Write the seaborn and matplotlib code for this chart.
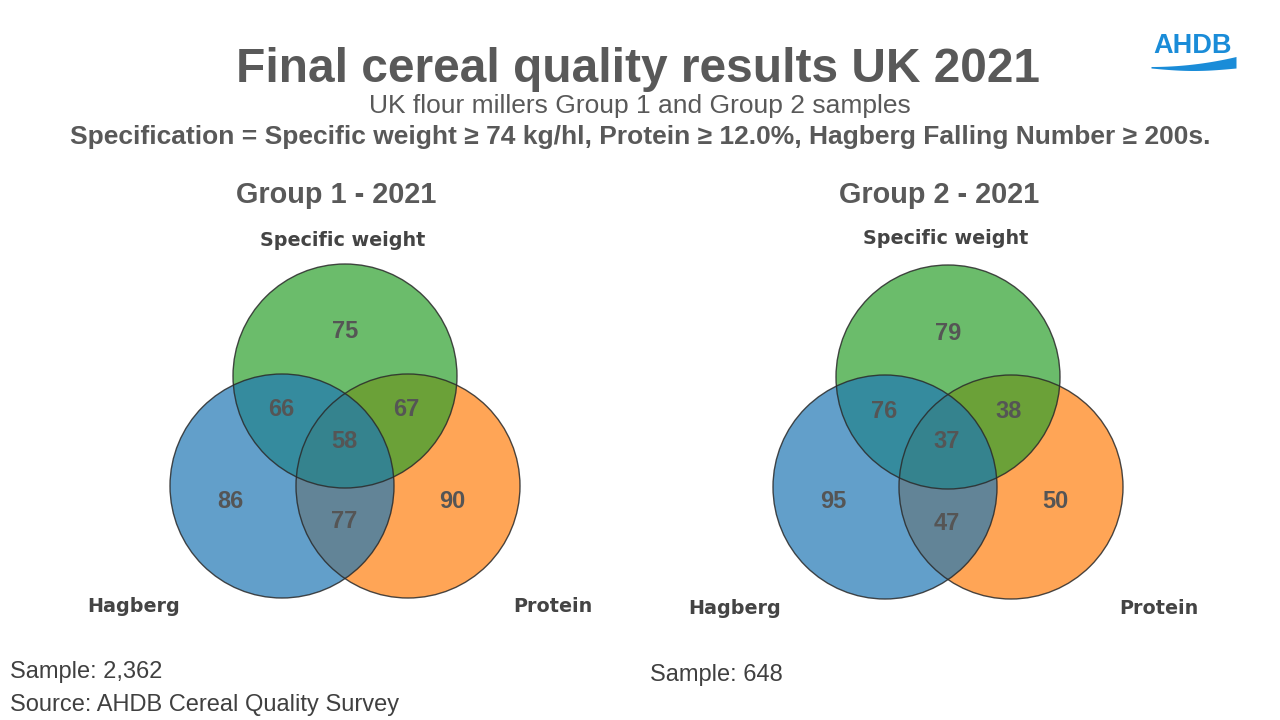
import numpy as np
import matplotlib
matplotlib.use("Agg")
import matplotlib.pyplot as plt
import seaborn as sns
from matplotlib.patches import Circle

sns.set_theme(style="white")
plt.rcParams["font.family"] = ["Liberation Sans", "DejaVu Sans"]

# --------------------------
# Data
# --------------------------
groups = ["Group 1 - 2021", "Group 2 - 2021"]
set_names = ["Specific weight", "Hagberg", "Protein"]
# regions: SW only, SW&H, SW&P, all three, H only, H&P, P only
region_keys = ["sw", "sw_h", "sw_p", "all", "h", "h_p", "p"]
group1_values = [75, 66, 67, 58, 86, 77, 90]
group2_values = [79, 76, 38, 37, 95, 47, 50]
samples = ["Sample: 2,362", "Sample: 648"]

palette = sns.color_palette("tab10")
circle_colors = [palette[2], palette[0], palette[1]]  # green, blue, orange
grey = "#595959"

# layout (figure pixels)
centroids = [(345, 449), (948, 450)]
radius = 112
circle_offsets = [(0, -73), (-63, 37), (63, 37)]
draw_order = [2, 0, 1]  # orange at the bottom, then green, blue on top
label_offsets = {"sw": (0, -117), "sw_h": (-64, -39), "sw_p": (61, -39),
                 "all": (-1, -8), "h": (-115, 52), "h_p": (-1, 73), "p": (107, 52)}

fig = plt.figure(figsize=(12.8, 7.2), dpi=100)
ax = fig.add_axes([0, 0, 1, 1])
ax.set_xlim(0, 1280)
ax.set_ylim(720, 0)
ax.axis("off")

# titles
ax.text(638, 69, "Final cereal quality results UK 2021", ha="center", va="center",
        fontsize=34.5, fontweight="bold", color=grey)
ax.text(640, 106, "UK flour millers Group 1 and Group 2 samples", ha="center", va="center",
        fontsize=19, color=grey)
ax.text(640, 137, "Specification = Specific weight \u2265 74 kg/hl, Protein \u2265 12.0%, "
        "Hagberg Falling Number \u2265 200s.", ha="center", va="center",
        fontsize=19, fontweight="bold", color=grey)

for gi, (name, values) in enumerate(zip(groups, [group1_values, group2_values])):
    cx, cy = centroids[gi]
    ax.text(cx - 9, 195, name, ha="center", va="center", fontsize=20.8,
            fontweight="bold", color=grey)
    for i in draw_order:
        dx, dy = circle_offsets[i]
        ax.add_patch(Circle((cx + dx, cy + dy), radius, facecolor=circle_colors[i],
                            alpha=0.7, edgecolor="none"))
    for (dx, dy) in circle_offsets:
        ax.add_patch(Circle((cx + dx, cy + dy), radius, facecolor="none",
                            edgecolor="#2a2a2a", lw=1.0, alpha=0.85))
    for key, v in zip(region_keys, values):
        dx, dy = label_offsets[key]
        ax.text(cx + dx, cy + dy, str(v), ha="center", va="center", fontsize=17,
                fontweight="bold", color="#555555")
    # set labels
    lab_pos = [(-2, -209 - gi * 3), (-211 - gi * 2, 157 + gi * 2), (208 + gi * 3, 157 + gi * 2)]
    for s, (dx, dy) in zip(set_names, lab_pos):
        ax.text(cx + dx, cy + dy, s, ha="center", va="center", fontsize=13.8,
                fontweight="bold", color="#444444", family=["DejaVu Sans"])
    ax.text(10 + gi * 640, 672 + gi * 3, samples[gi], ha="left", va="center",
            fontsize=17, color="#404040")

ax.text(10, 705, "Source: AHDB Cereal Quality Survey", ha="left", va="center",
        fontsize=17, color="#404040")

# AHDB logo
logo_blue = "#1a8cd8"
ax.text(1193, 46, "AHDB", ha="center", va="center", fontsize=19.5, fontweight="bold",
        color=logo_blue)
wx = np.linspace(1151, 1236, 80)
t = (wx - 1151) / 85
upper = 66.5 - 10 * t ** 2
lower = 68 + 2.5 * np.sin(np.pi * t)
ax.fill_between(wx, upper, lower, color=logo_blue, lw=0)

fig.savefig("out.png", dpi=100, facecolor="white")
